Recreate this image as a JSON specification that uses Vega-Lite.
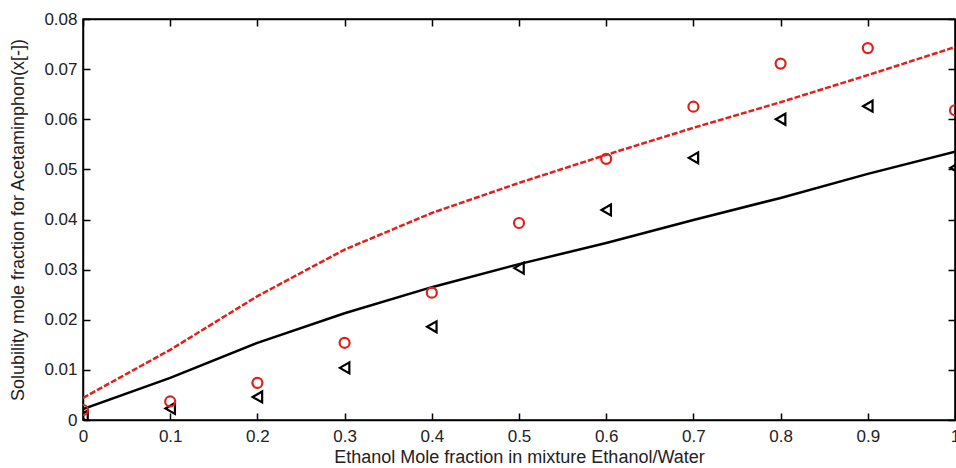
{
  "$schema": "https://vega.github.io/schema/vega-lite/v6.json",
  "autosize": "none",
  "width": 872,
  "height": 401,
  "padding": {"left": 83, "top": 19, "right": 1, "bottom": 48},
  "background": "white",
  "config": {
    "view": {"stroke": "black", "strokeWidth": 1.5},
    "axis": {
      "grid": false,
      "labelFont": "Liberation Sans",
      "labelFontSize": 17,
      "labelColor": "#222",
      "titleFont": "Liberation Sans",
      "titleFontSize": 18,
      "titleFontWeight": "normal",
      "titleColor": "#222",
      "domainColor": "black",
      "domainWidth": 1.5,
      "tickColor": "black",
      "tickWidth": 1.5,
      "labelOverlap": false,
      "labelFlush": false,
      "labelBound": false
    }
  },
  "datasets": {
    "pts": [
      {"x": 0.0, "y": 0.0020, "series": "circle"},
      {"x": 0.1, "y": 0.0037, "series": "circle"},
      {"x": 0.2, "y": 0.0074, "series": "circle"},
      {"x": 0.3, "y": 0.0154, "series": "circle"},
      {"x": 0.4, "y": 0.0254, "series": "circle"},
      {"x": 0.5, "y": 0.0393, "series": "circle"},
      {"x": 0.6, "y": 0.0521, "series": "circle"},
      {"x": 0.7, "y": 0.0625, "series": "circle"},
      {"x": 0.8, "y": 0.0711, "series": "circle"},
      {"x": 0.9, "y": 0.0742, "series": "circle"},
      {"x": 1.0, "y": 0.0618, "series": "circle"},
      {"x": 0.0, "y": 0.0008, "series": "triangle"},
      {"x": 0.1, "y": 0.0023, "series": "triangle"},
      {"x": 0.2, "y": 0.0046, "series": "triangle"},
      {"x": 0.3, "y": 0.0104, "series": "triangle"},
      {"x": 0.4, "y": 0.0186, "series": "triangle"},
      {"x": 0.5, "y": 0.0303, "series": "triangle"},
      {"x": 0.6, "y": 0.0419, "series": "triangle"},
      {"x": 0.7, "y": 0.0523, "series": "triangle"},
      {"x": 0.8, "y": 0.0600, "series": "triangle"},
      {"x": 0.9, "y": 0.0626, "series": "triangle"},
      {"x": 1.0, "y": 0.0503, "series": "triangle"}
    ],
    "lines": [
      {"x": 0.0, "y": 0.0044, "series": "dashed"},
      {"x": 0.1, "y": 0.0140, "series": "dashed"},
      {"x": 0.2, "y": 0.0247, "series": "dashed"},
      {"x": 0.3, "y": 0.0340, "series": "dashed"},
      {"x": 0.4, "y": 0.0413, "series": "dashed"},
      {"x": 0.5, "y": 0.0473, "series": "dashed"},
      {"x": 0.6, "y": 0.0529, "series": "dashed"},
      {"x": 0.7, "y": 0.0583, "series": "dashed"},
      {"x": 0.8, "y": 0.0634, "series": "dashed"},
      {"x": 0.9, "y": 0.0688, "series": "dashed"},
      {"x": 1.0, "y": 0.0744, "series": "dashed"},
      {"x": 0.0, "y": 0.0022, "series": "solid"},
      {"x": 0.1, "y": 0.0084, "series": "solid"},
      {"x": 0.2, "y": 0.0154, "series": "solid"},
      {"x": 0.3, "y": 0.0213, "series": "solid"},
      {"x": 0.4, "y": 0.0265, "series": "solid"},
      {"x": 0.5, "y": 0.0311, "series": "solid"},
      {"x": 0.6, "y": 0.0353, "series": "solid"},
      {"x": 0.7, "y": 0.0399, "series": "solid"},
      {"x": 0.8, "y": 0.0443, "series": "solid"},
      {"x": 0.9, "y": 0.0491, "series": "solid"},
      {"x": 1.0, "y": 0.0535, "series": "solid"}
    ]
  },
  "resolve": {"axis": {"x": "independent", "y": "independent"}},
  "layer": [
    {
      "data": {"name": "lines"},
      "transform": [{"filter": "datum.series === 'solid'"}],
      "mark": {"type": "line", "color": "black", "strokeWidth": 2.5, "clip": true},
      "encoding": {
        "x": {"field": "x", "type": "quantitative", "scale": {"domain": [0, 1], "nice": false},
          "axis": {"orient": "bottom", "values": [0,0.1,0.2,0.3,0.4,0.5,0.6,0.7,0.8,0.9,1], "format": "~g", "tickSize": -7, "labelPadding": 15,
            "title": "Ethanol Mole fraction in mixture Ethanol/Water", "titlePadding": 4}},
        "y": {"field": "y", "type": "quantitative", "scale": {"domain": [0, 0.08], "nice": false},
          "axis": {"orient": "left", "values": [0,0.01,0.02,0.03,0.04,0.05,0.06,0.07,0.08], "format": ".2~f", "tickSize": -7, "labelPadding": 13,
            "title": "Solubility mole fraction for Acetaminphon(x[-])", "titlePadding": 16, "titleFontSize": 18}}
      }
    },
    {
      "data": {"name": "lines"},
      "transform": [{"filter": "datum.series === 'dashed'"}],
      "mark": {"type": "line", "color": "#e0201c", "strokeWidth": 2.5, "strokeDash": [6, 2], "clip": true},
      "encoding": {
        "x": {"field": "x", "type": "quantitative",
          "axis": {"orient": "top", "values": [0,0.1,0.2,0.3,0.4,0.5,0.6,0.7,0.8,0.9,1], "labels": false, "tickSize": -7, "title": null}},
        "y": {"field": "y", "type": "quantitative",
          "axis": {"orient": "right", "values": [0,0.01,0.02,0.03,0.04,0.05,0.06,0.07,0.08], "labels": false, "tickSize": -7, "title": null}}
      }
    },
    {
      "data": {"name": "pts"},
      "transform": [{"filter": "datum.series === 'triangle'"}],
      "mark": {"type": "point", "shape": "triangle-left", "filled": false, "color": "black", "strokeWidth": 2.2, "size": 120, "opacity": 1, "clip": true},
      "encoding": {
        "x": {"field": "x", "type": "quantitative", "axis": null},
        "y": {"field": "y", "type": "quantitative", "axis": null}
      }
    },
    {
      "data": {"name": "pts"},
      "transform": [{"filter": "datum.series === 'circle'"}],
      "mark": {"type": "point", "shape": "circle", "filled": false, "color": "#e0201c", "strokeWidth": 2.2, "size": 100, "opacity": 1, "clip": true},
      "encoding": {
        "x": {"field": "x", "type": "quantitative", "axis": null},
        "y": {"field": "y", "type": "quantitative", "axis": null}
      }
    }
  ]
}
